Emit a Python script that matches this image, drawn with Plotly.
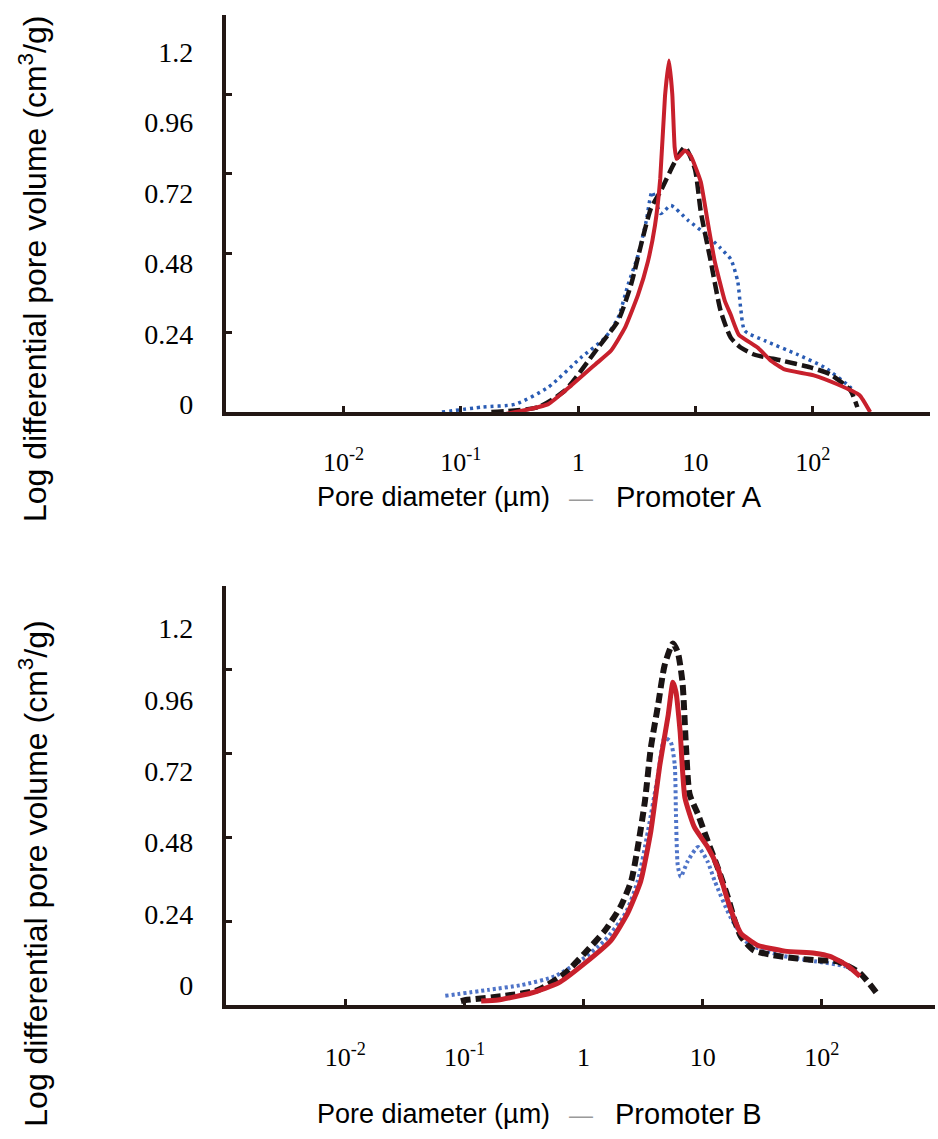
import plotly.graph_objects as go

W, H = 938, 1139

# ---------------- data (pore diameter in µm, log differential pore volume) -------------
# Promoter A panel
a_red_x = [0.116, 0.18, 0.292, 0.556, 0.871, 1.40, 1.91, 2.51, 3.24, 3.94, 4.52, 5.01, 5.50,
           5.95, 6.35, 6.65, 6.9, 8.13, 9.12, 11.1, 12.7, 14.6, 17.8, 20.0, 23.4, 33.9,
           43.7, 57.5, 102, 162, 251, 309]
a_red_y = [-0.01, -0.012, 0.0, 0.024, 0.08, 0.144, 0.186, 0.255, 0.354, 0.456, 0.564, 0.705,
           0.954, 1.062, 0.96, 0.80, 0.765, 0.79, 0.774, 0.696, 0.576, 0.456, 0.336, 0.294,
           0.234, 0.195, 0.156, 0.129, 0.111, 0.084, 0.051, 0.0]

a_blk_x = [0.182, 0.457, 0.776, 1.48, 2.19, 2.82, 3.43, 4.17, 5.07, 6.68, 8.13, 9.89, 11.1,
           13.5, 16.4, 20.0, 24.3, 31.6, 53.7, 95.5, 141, 209, 240]
a_blk_y = [0.0, 0.015, 0.066, 0.195, 0.276, 0.384, 0.504, 0.615, 0.669, 0.756, 0.80, 0.735,
           0.606, 0.456, 0.306, 0.225, 0.195, 0.174, 0.156, 0.135, 0.114, 0.066, 0.015]

a_blu_x = [0.069, 0.151, 0.292, 0.556, 1.06, 1.70, 2.19, 2.66, 3.24, 3.80, 4.27, 5.07, 6.17,
           8.61, 12.0, 16.4, 20.0, 22.9, 24.3, 26.3, 38.9, 74.1, 126, 209, 240]
a_blu_y = [0.0, 0.015, 0.024, 0.075, 0.165, 0.225, 0.285, 0.384, 0.474, 0.576, 0.666, 0.60,
           0.624, 0.58, 0.54, 0.495, 0.462, 0.396, 0.315, 0.246, 0.216, 0.174, 0.135, 0.075,
           0.045]

# Promoter B panel
b_red_x = [0.138, 0.191, 0.363, 0.617, 1.02, 1.70, 2.34, 3.02, 3.67, 4.37, 5.13, 5.62, 5.96,
           6.46, 7.08, 8.51, 11.0, 13.3, 16.2, 18.6, 20.9, 28.8, 49.0, 87.1, 117, 162, 209]
b_red_y = [0.011, 0.014, 0.034, 0.063, 0.119, 0.185, 0.262, 0.355, 0.498, 0.688, 0.83, 0.924,
           0.896, 0.782, 0.594, 0.509, 0.452, 0.395, 0.299, 0.242, 0.205, 0.171, 0.154, 0.148,
           0.139, 0.114, 0.082]

b_blk_x = [0.0933, 0.102, 0.219, 0.417, 0.700, 1.02, 1.51, 2.04, 2.51, 2.85, 3.27, 3.67, 4.22,
           4.79, 5.62, 6.17, 6.76, 7.24, 7.76, 9.12, 11.0, 13.3, 16.2, 18.6, 20.9, 26.9, 44.7,
           87.1, 135, 209, 288]
b_blk_y = [0.011, 0.014, 0.026, 0.043, 0.091, 0.148, 0.213, 0.281, 0.355, 0.452, 0.583, 0.737,
           0.859, 0.973, 1.035, 1.01, 0.924, 0.737, 0.603, 0.546, 0.469, 0.395, 0.31, 0.24,
           0.196, 0.156, 0.139, 0.128, 0.125, 0.091, 0.034]

b_blu_x = [0.069, 0.158, 0.302, 0.575, 0.955, 1.51, 2.24, 2.85, 3.47, 4.22, 4.79, 5.37, 5.82,
           5.96, 6.17, 6.53, 7.50, 9.12, 11.0, 12.6, 17.0, 24.0, 44.7, 87.1, 155, 200]
b_blu_y = [0.026, 0.043, 0.057, 0.082, 0.128, 0.185, 0.262, 0.355, 0.498, 0.66, 0.765, 0.754,
           0.688, 0.546, 0.40, 0.367, 0.412, 0.452, 0.41, 0.355, 0.253, 0.176, 0.142, 0.125,
           0.111, 0.091]

x_tickvals = [0.01, 0.1, 1, 10, 100, 1000]
x_ticktext = ["10<sup>-2</sup>", "10<sup>-1</sup>", "1", "10", "10<sup>2</sup>", " "]
y_tickvals = [0, 0.24, 0.48, 0.72, 0.96, 1.2]
y_ticktext = ["0", "0.24", "0.48", "0.72", "0.96", "1.2"]

RED = "#c8202c"
BLK = "#1a1414"
BLU_A = "#2a5cb4"
BLU_B = "#4f74c8"
AX = "#231815"


def px_x(p):
    return p / W


def px_y(p):
    return 1 - p / H


fig = go.Figure()

# top panel traces
fig.add_trace(go.Scatter(x=a_blu_x, y=a_blu_y, mode="lines", xaxis="x", yaxis="y",
                         line=dict(color=BLU_A, width=3.5, dash="3px,4px", shape="spline", smoothing=0.6)))
fig.add_trace(go.Scatter(x=a_blk_x, y=a_blk_y, mode="lines", xaxis="x", yaxis="y",
                         line=dict(color=BLK, width=4.5, dash="12px,5px", shape="spline", smoothing=0.6)))
fig.add_trace(go.Scatter(x=a_red_x, y=a_red_y, mode="lines", xaxis="x", yaxis="y",
                         line=dict(color=RED, width=4, shape="spline", smoothing=0.4)))

# bottom panel traces
fig.add_trace(go.Scatter(x=b_blu_x, y=b_blu_y, mode="lines", xaxis="x2", yaxis="y2",
                         line=dict(color=BLU_B, width=4, dash="3px,3px", shape="spline", smoothing=0.6)))
fig.add_trace(go.Scatter(x=b_blk_x, y=b_blk_y, mode="lines", xaxis="x2", yaxis="y2",
                         line=dict(color=BLK, width=6, dash="10px,5px", shape="spline", smoothing=0.6)))
fig.add_trace(go.Scatter(x=b_red_x, y=b_red_y, mode="lines", xaxis="x2", yaxis="y2",
                         line=dict(color=RED, width=5, shape="spline", smoothing=0.5)))

# carriers so that the label-only overlay axes are drawn
fig.add_trace(go.Scatter(x=[None], y=[None], mode="lines", xaxis="x", yaxis="y3",
                         hoverinfo="skip", showlegend=False))
fig.add_trace(go.Scatter(x=[None], y=[None], mode="lines", xaxis="x2", yaxis="y4",
                         hoverinfo="skip", showlegend=False))

axis_line = dict(showline=True, linewidth=3.5, linecolor=AX, showgrid=False, zeroline=False,
                 ticks="inside", ticklen=6, tickwidth=3, tickcolor=AX)

xfont = dict(family="Liberation Serif", size=26, color="black")
yfont = dict(family="Liberation Serif", size=28, color="black")

fig.update_layout(
    width=W, height=H,
    margin=dict(l=0, r=0, t=0, b=0),
    paper_bgcolor="white", plot_bgcolor="white",
    showlegend=False,
    xaxis=dict(domain=[px_x(227), px_x(933)], type="log", range=[-3, 3], anchor="y",
               tickvals=x_tickvals, ticktext=x_ticktext, tickfont=xfont,
               ticklabelstandoff=24, **axis_line),
    yaxis=dict(domain=[px_y(415), px_y(15)], range=[0, 1.2], anchor="x",
               tickvals=y_tickvals, showticklabels=False, **axis_line),
    yaxis3=dict(overlaying="y", anchor="x", side="left", range=[-0.0254, 1.3268],
                autorange=False, tickvals=y_tickvals, ticktext=y_ticktext, tickfont=yfont,
                showline=False, showgrid=False, zeroline=False, ticks="",
                ticklabelstandoff=32),
    xaxis2=dict(domain=[px_x(227), 1.0], type="log", range=[-3, 2.95], anchor="y2",
                tickvals=x_tickvals, ticktext=x_ticktext, tickfont=xfont,
                ticklabelstandoff=26, **axis_line),
    yaxis2=dict(domain=[px_y(1012), px_y(590)], range=[0, 1.2], anchor="x2",
                tickvals=y_tickvals, showticklabels=False, **axis_line),
    yaxis4=dict(overlaying="y2", anchor="x2", side="left", range=[-0.0669, 1.3437],
                autorange=False, tickvals=y_tickvals, ticktext=y_ticktext, tickfont=yfont,
                showline=False, showgrid=False, zeroline=False, ticks="",
                ticklabelstandoff=32),
)

tfont = dict(family="Liberation Sans", size=27, color="black")
ytitle = "Log differential pore volume (cm<sup>3</sup>/g)"
ann = []
for cy in (271, 880):
    ann.append(dict(text=ytitle, x=px_x(33), y=px_y(cy), xref="paper", yref="paper",
                    textangle=-90, showarrow=False, xanchor="center", yanchor="middle",
                    font=dict(family="Liberation Sans", size=32, color="black")))
for cy, name in ((501, "Promoter A"), (1122, "Promoter B")):
    ann.append(dict(text="Pore diameter (µm)", x=px_x(435), y=px_y(cy), xref="paper", yref="paper",
                    showarrow=False, xanchor="center", yanchor="middle", font=tfont))
    ann.append(dict(text="—", x=px_x(583), y=px_y(cy), xref="paper", yref="paper",
                    showarrow=False, xanchor="center", yanchor="middle",
                    font=dict(family="Liberation Sans", size=24, color="#9a9a9a")))
    ann.append(dict(text=name, x=px_x(691), y=px_y(cy), xref="paper", yref="paper",
                    showarrow=False, xanchor="center", yanchor="middle",
                    font=dict(family="Liberation Sans", size=29, color="black")))
fig.update_layout(annotations=ann)

fig.write_html("out.html", config={"displayModeBar": False},
               post_script="document.body.style.margin='0px';")
